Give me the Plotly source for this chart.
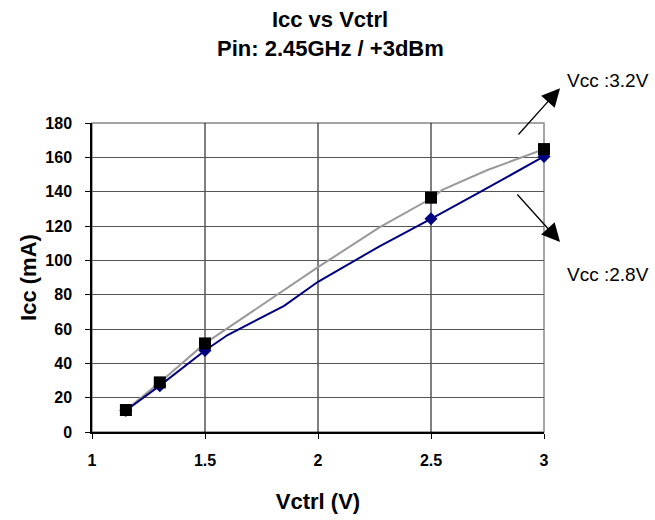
import plotly.graph_objects as go

# Vcc = 3.2 V curve (grey line) and its measured points (black squares)
vctrl_32_line = [1.15, 1.3, 1.5, 1.6, 1.82, 2.0, 2.27, 2.5, 2.55, 2.75, 3.0]
icc_32_line = [12.8, 28.9, 51.6, 60.5, 80.0, 96.0, 119.0, 136.0, 141.0, 152.6, 164.8]
vctrl_32_pts = [1.15, 1.3, 1.5, 2.5, 3.0]
icc_32_pts = [12.8, 28.9, 51.6, 136.5, 164.8]

# Vcc = 2.8 V curve (navy line) and its measured points (diamonds)
vctrl_28_line = [1.15, 1.3, 1.5, 1.6, 1.85, 2.0, 2.27, 2.45, 2.5, 2.72, 3.0]
icc_28_line = [12.5, 27.0, 47.5, 56.5, 73.5, 87.5, 108.0, 120.5, 124.2, 140.0, 160.5]
vctrl_28_pts = [1.15, 1.3, 1.5, 2.5, 3.0]
icc_28_pts = [12.5, 27.0, 47.5, 124.2, 160.5]

x_ticks = [1, 1.5, 2, 2.5, 3]
y_ticks = [0, 20, 40, 60, 80, 100, 120, 140, 160, 180]

FONT = "Liberation Sans, Arial, sans-serif"

fig = go.Figure()
fig.add_trace(go.Scatter(x=vctrl_32_line, y=icc_32_line, mode="lines",
                         line=dict(color="#999999", width=2), showlegend=False))
fig.add_trace(go.Scatter(x=vctrl_28_line, y=icc_28_line, mode="lines",
                         line=dict(color="#000080", width=2), showlegend=False))
fig.add_trace(go.Scatter(x=vctrl_28_pts, y=icc_28_pts, mode="markers",
                         marker=dict(symbol="diamond", size=10, color="#000080"),
                         showlegend=False, cliponaxis=False))
fig.add_trace(go.Scatter(x=vctrl_32_pts, y=icc_32_pts, mode="markers",
                         marker=dict(symbol="square", size=12, color="#000000"),
                         showlegend=False, cliponaxis=False))

# frame (grey top/right) and black vertical gridlines at inner x ticks
shapes = [dict(type="rect", xref="paper", yref="paper", x0=0, y0=0, x1=1, y1=1,
               line=dict(color="#888888", width=1.5), layer="below")]
for xv in x_ticks[1:-1]:
    shapes.append(dict(type="line", xref="x", yref="paper", x0=xv, x1=xv, y0=0, y1=1,
                       line=dict(color="black", width=1), layer="below"))

fig.update_layout(
    width=655, height=520,
    margin=dict(l=92, r=111, t=123, b=88, autoexpand=False),
    paper_bgcolor="white", plot_bgcolor="white",
    font=dict(family=FONT, color="black"),
    title=dict(text="<b>Icc vs Vctrl</b>", x=330 / 655, xanchor="center",
               y=1 - 19 / 520, yanchor="middle", font=dict(size=22)),
    xaxis=dict(range=[1, 3], tickvals=x_ticks, ticktext=[str(v) for v in x_ticks],
               showgrid=False, automargin=False,
               showline=True, linecolor="black", linewidth=1.5,
               ticks="outside", ticklen=5, tickcolor="black", ticklabelstandoff=8,
               tickfont=dict(size=16, family=FONT, weight="bold"), zeroline=False,
               title=dict(text="<b>Vctrl (V)</b>", font=dict(size=22), standoff=26)),
    yaxis=dict(range=[0, 180], tickvals=y_ticks, automargin=False,
               showgrid=True, gridcolor="#555555", gridwidth=1,
               showline=True, linecolor="black", linewidth=1.5,
               ticks="outside", ticklen=5, tickcolor="black", ticklabelstandoff=10,
               tickfont=dict(size=16, family=FONT, weight="bold"), zeroline=False,
               title=dict(text="<b>Icc (mA)</b>", font=dict(size=22), standoff=3)),
    shapes=shapes,
    annotations=[
        dict(text="<b>Pin: 2.45GHz / +3dBm</b>", xref="paper", yref="paper",
             x=(330 - 92) / 452, y=(432 - 48) / 309, xanchor="center", yanchor="middle",
             showarrow=False, font=dict(size=22)),
        dict(x=3.071, y=200.3, xref="x", yref="y", ax=2.881, ay=172.4,
             axref="x", ayref="y", showarrow=True, arrowhead=2, arrowsize=2.8,
             arrowwidth=1.3, arrowcolor="black", text=""),
        dict(x=3.071, y=110.7, xref="x", yref="y", ax=2.876, ay=139.2,
             axref="x", ayref="y", showarrow=True, arrowhead=2, arrowsize=2.8,
             arrowwidth=1.3, arrowcolor="black", text=""),
        dict(text="Vcc :3.2V", x=(565 - 92) / 452, y=(432 - 80) / 309,
             xref="paper", yref="paper",
             xanchor="left", yanchor="middle", showarrow=False, font=dict(size=19)),
        dict(text="Vcc :2.8V", x=(565 - 92) / 452, y=(432 - 274) / 309,
             xref="paper", yref="paper",
             xanchor="left", yanchor="middle", showarrow=False, font=dict(size=19)),
    ],
)

fig.write_html("out.html")
